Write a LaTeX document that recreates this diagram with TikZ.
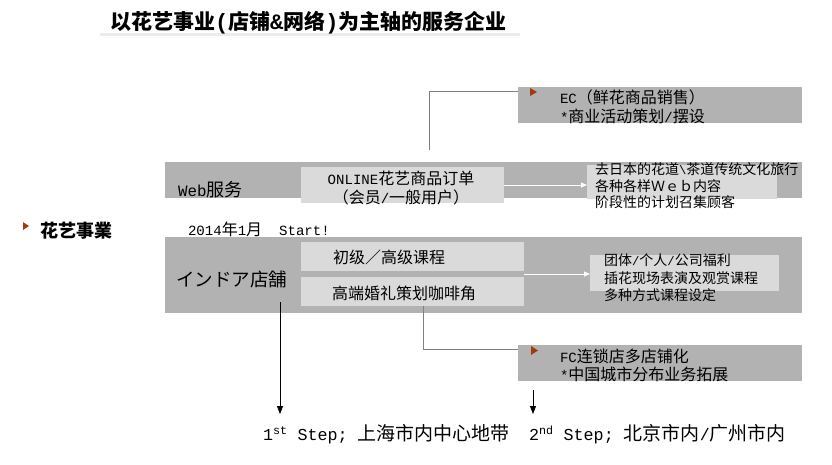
\documentclass[tikz,border=0pt]{standalone}
\usepackage{fontspec}
\setmainfont{Noto Sans CJK SC}
\newfontfamily\lat{Liberation Mono}[Scale=0.88]
\newfontfamily\latb{Liberation Mono}[Scale=1.05]
\usetikzlibrary{arrows.meta,calc}
\definecolor{bandc}{HTML}{B2B2B2}
\definecolor{boxg}{HTML}{DADADA}
\definecolor{markc}{HTML}{A23B0B}
\definecolor{connc}{HTML}{808080}
\definecolor{shadowc}{HTML}{EBEBEB}
\begin{document}
\begin{tikzpicture}[x=1pt,y=-1pt,
 bandbox/.style={fill=bandc, draw=none, anchor=north west, inner sep=0, outer sep=0},
 litebox/.style={fill=boxg, draw=none, anchor=north west, inner sep=0, outer sep=0},
 conn/.style={draw=connc, line width=0.8pt},
 warrow/.style={draw=white, line width=0.8pt, -{Triangle[length=6pt,width=5pt,fill=white]}},
 barrow/.style={draw=black, line width=0.8pt, -{Triangle[length=8pt,width=6pt]}},
 txt/.style={inner sep=0, outer sep=0, anchor=west, align=left},
 ctxt/.style={inner sep=0, outer sep=0, anchor=center, align=center},
 markc/.style={fill=markc, draw=none}
]
\useasboundingbox (0,0) rectangle (832,464);

% title
\draw[shadowc, line width=3pt] (100,34) -- (520,34);
\node[txt, font=\fontsize{21}{24}\selectfont\bfseries] (title) at (110,23) {以花艺事业{\latb\bfseries(}店铺{\latb\bfseries\&}网络{\latb\bfseries)}为主轴的服务企业};

% bands and boxes
\node[bandbox, minimum width=284, minimum height=36] (ec) at (518,87) {};
\node[bandbox, minimum width=637, minimum height=36] (web) at (165,162) {};
\node[bandbox, minimum width=637, minimum height=76] (store) at (165,237) {};
\node[bandbox, minimum width=284, minimum height=36] (fc) at (518,345) {};
\node[litebox, minimum width=203, minimum height=36] (online) at (301,167) {};
\node[litebox, minimum width=190, minimum height=34] (webr) at (587,165) {};
\node[litebox, minimum width=223, minimum height=29] (course) at (301,242) {};
\node[litebox, minimum width=223, minimum height=29] (wed) at (301,277) {};
\node[litebox, minimum width=189, minimum height=36] (storer) at (590,255) {};

% markers
\fill[markc] (530,88) -- (530,96) -- (537,92) -- cycle;
\fill[markc] (23,222) -- (23,230) -- (29,226) -- cycle;
\fill[markc] (531,346) -- (531,355) -- (538,350.5) -- cycle;

% texts
\node[txt, font=\fontsize{16}{19}\selectfont] (ect) at (560,107) {{\lat EC}（鲜花商品销售）\\{\lat *}商业活动策划{\lat /}摆设};
\node[txt, font=\fontsize{18}{20}\selectfont] (webt) at (178,190) {{\lat Web}服务};
\node[ctxt, font=\fontsize{16}{19}\selectfont] (onlinet) at (401,188) {{\lat ONLINE}花艺商品订单\\（会员{\lat /}一般用户）};
\node[txt, font=\fontsize{14}{16.5}\selectfont] (webrt) at (595,186) {去日本的花道{\lat\textbackslash}茶道传统文化旅行\\各种各样Ｗｅｂ内容\\阶段性的计划召集顾客};
\node[txt, font=\fontsize{16}{19}\selectfont] (start) at (188,229) {{\lat 2014}年{\lat 1}月{\lat\ \ Start!}};
\node[txt, font=\fontsize{18}{22}\selectfont\bfseries] (kaye) at (40,231) {花艺事業};
\node[txt, font=\fontsize{18.5}{22}\selectfont] (storet) at (176,279) {インドア店舗};
\node[ctxt, font=\fontsize{16}{19}\selectfont] (courset) at (389,257) {初级／高级课程};
\node[ctxt, font=\fontsize{16}{19}\selectfont] (wedt) at (404,293) {高端婚礼策划咖啡角};
\node[txt, font=\fontsize{14}{17.5}\selectfont] (storert) at (604,278) {团体{\lat /}个人{\lat /}公司福利\\插花现场表演及观赏课程\\多种方式课程设定};
\node[txt, font=\fontsize{16}{18}\selectfont] (fct) at (560,365) {{\lat FC}连锁店多店铺化\\{\lat *}中国城市分布业务拓展};
\node[txt, font=\fontsize{19}{22}\selectfont] (step1) at (263,434) {{\lat 1\textsuperscript{st} Step; }上海市内中心地带};
\node[txt, font=\fontsize{19}{22}\selectfont] (step2) at (529,434) {{\lat 2\textsuperscript{nd} Step; }北京市内{\lat /}广州市内};

% connectors
\coordinate (ecfoot) at (429,150);
\draw[conn] (ecfoot) |- ([yshift=-4pt]ec.north west);
\draw[conn] ([xshift=10.5pt]wed.south) |- ([yshift=-4pt]fc.north west);
\draw[warrow] (online.east) -- (online.east -| webr.west);
\coordinate (mid) at ($(course.south east)!0.5!(wed.north east)$);
\draw[warrow] (mid) -- (mid -| storer.west);
\coordinate (a1s) at (280,302);
\coordinate (a1e) at (280,414);
\draw[barrow] (a1s) -- (a1e);
\coordinate (a2s) at (533,390);
\coordinate (a2e) at (533,414);
\draw[barrow] (a2s) -- (a2e);
\end{tikzpicture}
\end{document}
